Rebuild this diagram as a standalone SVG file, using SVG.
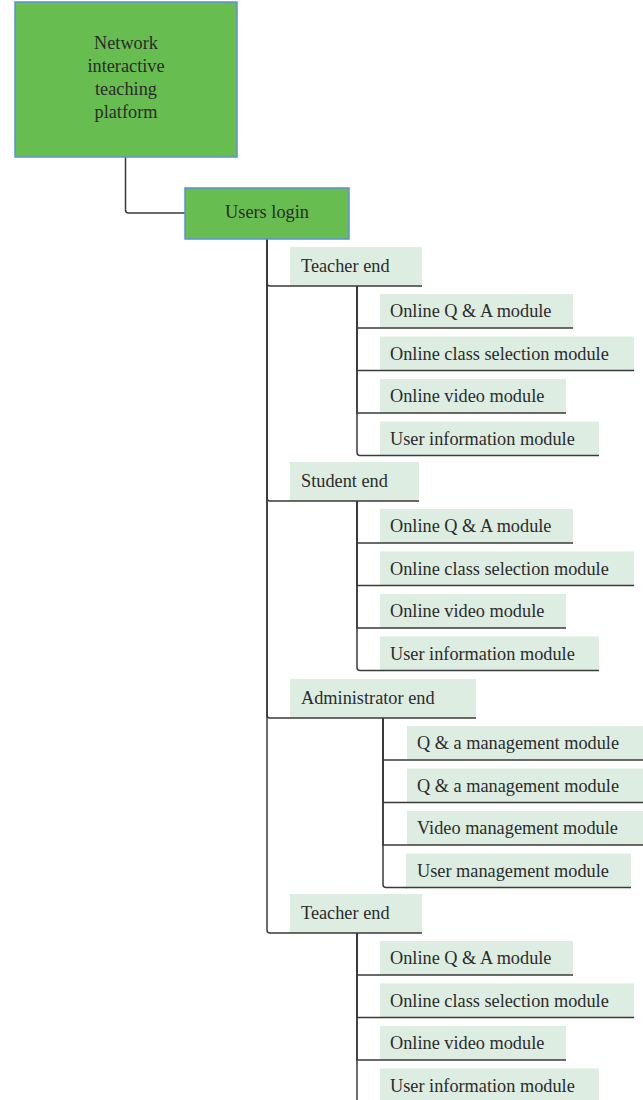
<svg xmlns="http://www.w3.org/2000/svg" width="643" height="1100" viewBox="0 0 643 1100">
  <style>
    .root { fill: #67bd4f; stroke: #5b93d3; stroke-width: 1.5; }
    .item { fill: #ddede2; }
    .rule { stroke: #3a3a3a; stroke-width: 1.4; fill: none; }
    .link { stroke: #3a3a3a; stroke-width: 1.5; fill: none; }
    text { font-family: "Liberation Serif", "DejaVu Serif", serif; font-size: 18.3px; fill: #2b2b2b; }
    .c { text-anchor: middle; }
  </style>
  <rect width="643" height="1100" fill="#ffffff"/>

  <!-- connectors -->
  <g id="connectors">
    <path class="link" d="M125.5,157 V210 Q125.5,213 128.5,213 H185"/>
    <!-- main spine from the login box -->
    <path class="link" d="M267,239 V283 Q267,286 270,286 H290"/>
    <path class="link" d="M267,239 V498 Q267,501 270,501 H290"/>
    <path class="link" d="M267,239 V715 Q267,718 270,718 H290"/>
    <path class="link" d="M267,239 V930 Q267,933 270,933 H290"/>
    <!-- teacher end (1) -->
    <path class="link" d="M357,286 V328 H380"/>
    <path class="link" d="M357,286 V370.5 H380"/>
    <path class="link" d="M357,286 V413 H380"/>
    <path class="link" d="M357,286 V452.5 Q357,455.5 360,455.5 H380"/>
    <!-- student end -->
    <path class="link" d="M357,501 V543 H380"/>
    <path class="link" d="M357,501 V585.5 H380"/>
    <path class="link" d="M357,501 V628 H380"/>
    <path class="link" d="M357,501 V667.5 Q357,670.5 360,670.5 H380"/>
    <!-- administrator end -->
    <path class="link" d="M383,718 V760 H407"/>
    <path class="link" d="M383,718 V802.5 H407"/>
    <path class="link" d="M383,718 V845 H407"/>
    <path class="link" d="M383,718 V884.5 Q383,887.5 386,887.5 H407"/>
    <!-- teacher end (2) -->
    <path class="link" d="M357,933 V975 H380"/>
    <path class="link" d="M357,933 V1017.5 H380"/>
    <path class="link" d="M357,933 V1060 H380"/>
    <path class="link" d="M357,933 V1100"/>
  </g>

  <!-- root -->
  <g id="platform">
    <rect class="root" x="15" y="2" width="222" height="155"/>
    <text class="c" x="126" y="49">Network</text>
    <text class="c" x="126" y="72">interactive</text>
    <text class="c" x="126" y="95">teaching</text>
    <text class="c" x="126" y="118">platform</text>
  </g>

  <g id="login">
    <rect class="root" x="185" y="188" width="164" height="51"/>
    <text class="c" x="267" y="218">Users login</text>
  </g>

  <!-- teacher end (1) -->
  <g id="teacher1">
    <rect class="item" x="290" y="247" width="132" height="39"/>
    <line class="rule" x1="290" y1="286" x2="422" y2="286"/>
    <text x="301" y="272">Teacher end</text>
  </g>
  <g id="t1-qa">
    <rect class="item" x="380" y="294" width="193" height="34"/>
    <line class="rule" x1="380" y1="328" x2="573" y2="328"/>
    <text x="390" y="317">Online Q &amp; A module</text>
  </g>
  <g id="t1-class">
    <rect class="item" x="380" y="336.5" width="254" height="34"/>
    <line class="rule" x1="380" y1="370.5" x2="634" y2="370.5"/>
    <text x="390" y="359.5">Online class selection module</text>
  </g>
  <g id="t1-video">
    <rect class="item" x="380" y="379" width="186" height="34"/>
    <line class="rule" x1="380" y1="413" x2="566" y2="413"/>
    <text x="390" y="402">Online video module</text>
  </g>
  <g id="t1-user">
    <rect class="item" x="380" y="421.5" width="219" height="34"/>
    <line class="rule" x1="380" y1="455.5" x2="599" y2="455.5"/>
    <text x="390" y="444.5">User information module</text>
  </g>

  <!-- student end -->
  <g id="student">
    <rect class="item" x="290" y="462" width="129" height="39"/>
    <line class="rule" x1="290" y1="501" x2="419" y2="501"/>
    <text x="301" y="487">Student end</text>
  </g>
  <g id="s-qa">
    <rect class="item" x="380" y="509" width="193" height="34"/>
    <line class="rule" x1="380" y1="543" x2="573" y2="543"/>
    <text x="390" y="532">Online Q &amp; A module</text>
  </g>
  <g id="s-class">
    <rect class="item" x="380" y="551.5" width="254" height="34"/>
    <line class="rule" x1="380" y1="585.5" x2="634" y2="585.5"/>
    <text x="390" y="574.5">Online class selection module</text>
  </g>
  <g id="s-video">
    <rect class="item" x="380" y="594" width="186" height="34"/>
    <line class="rule" x1="380" y1="628" x2="566" y2="628"/>
    <text x="390" y="617">Online video module</text>
  </g>
  <g id="s-user">
    <rect class="item" x="380" y="636.5" width="219" height="34"/>
    <line class="rule" x1="380" y1="670.5" x2="599" y2="670.5"/>
    <text x="390" y="659.5">User information module</text>
  </g>

  <!-- administrator end -->
  <g id="admin">
    <rect class="item" x="290" y="679" width="186" height="39"/>
    <line class="rule" x1="290" y1="718" x2="476" y2="718"/>
    <text x="301" y="704">Administrator end</text>
  </g>
  <g id="a-qa1">
    <rect class="item" x="407" y="726" width="236" height="34"/>
    <line class="rule" x1="407" y1="760" x2="643" y2="760"/>
    <text x="417" y="749">Q &amp; a management module</text>
  </g>
  <g id="a-qa2">
    <rect class="item" x="407" y="768.5" width="236" height="34"/>
    <line class="rule" x1="407" y1="802.5" x2="643" y2="802.5"/>
    <text x="417" y="791.5">Q &amp; a management module</text>
  </g>
  <g id="a-video">
    <rect class="item" x="407" y="811" width="236" height="34"/>
    <line class="rule" x1="407" y1="845" x2="643" y2="845"/>
    <text x="417" y="834">Video management module</text>
  </g>
  <g id="a-user">
    <rect class="item" x="406" y="853.5" width="225" height="34"/>
    <line class="rule" x1="406" y1="887.5" x2="631" y2="887.5"/>
    <text x="417" y="876.5">User management module</text>
  </g>

  <!-- teacher end (2) -->
  <g id="teacher2">
    <rect class="item" x="290" y="894" width="132" height="39"/>
    <line class="rule" x1="290" y1="933" x2="422" y2="933"/>
    <text x="301" y="919">Teacher end</text>
  </g>
  <g id="t2-qa">
    <rect class="item" x="380" y="941" width="193" height="34"/>
    <line class="rule" x1="380" y1="975" x2="573" y2="975"/>
    <text x="390" y="964">Online Q &amp; A module</text>
  </g>
  <g id="t2-class">
    <rect class="item" x="380" y="983.5" width="254" height="34"/>
    <line class="rule" x1="380" y1="1017.5" x2="634" y2="1017.5"/>
    <text x="390" y="1006.5">Online class selection module</text>
  </g>
  <g id="t2-video">
    <rect class="item" x="380" y="1026" width="186" height="34"/>
    <line class="rule" x1="380" y1="1060" x2="566" y2="1060"/>
    <text x="390" y="1049">Online video module</text>
  </g>
  <g id="t2-user">
    <rect class="item" x="380" y="1068.5" width="219" height="34"/>
    <text x="390" y="1091.5">User information module</text>
  </g>
</svg>
